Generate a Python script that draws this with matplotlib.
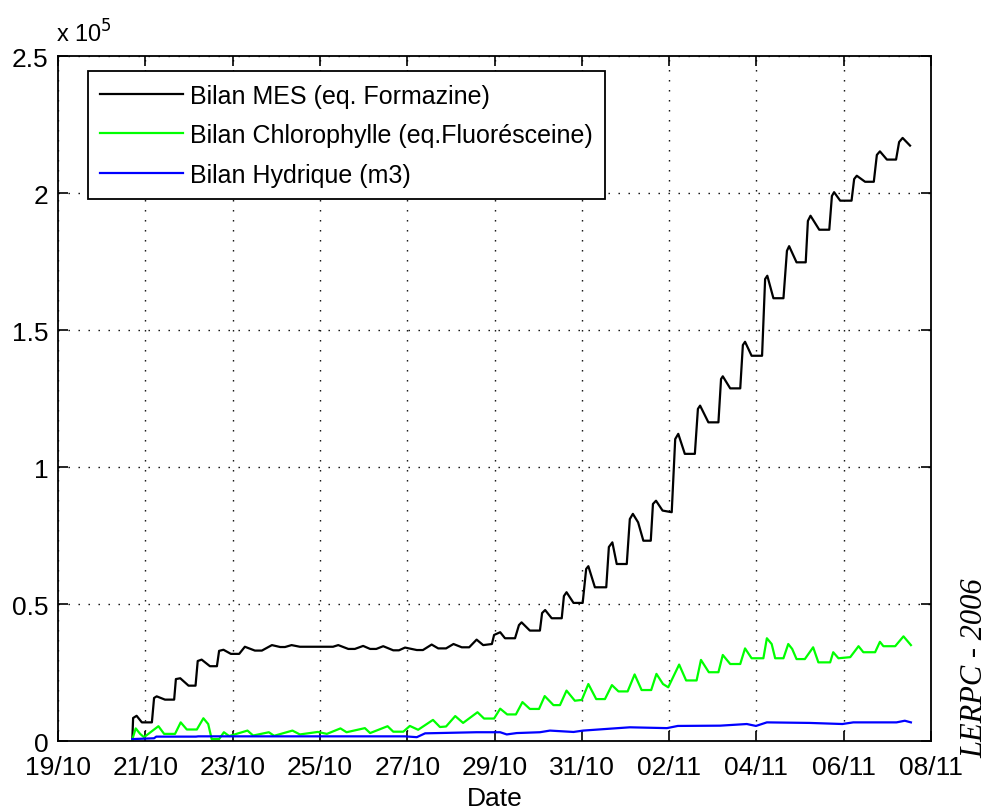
import numpy as np
import matplotlib
matplotlib.use('Agg')
import matplotlib.pyplot as plt
import matplotlib.dates as mdates
from datetime import datetime

plt.rcParams['font.family'] = ['Liberation Sans', 'DejaVu Sans']

start = datetime(2006, 10, 19)

# time axis in days after 19/10/2006 00:00
mes_days = [1.70, 1.72, 1.80, 1.92, 2.15, 2.20, 2.26, 2.45, 2.66, 2.70, 2.80, 2.99, 3.15,
            3.20, 3.29, 3.48, 3.64, 3.69, 3.79, 3.96, 4.15, 4.28, 4.51, 4.67, 4.90, 5.09,
            5.20, 5.35, 5.54, 6.30, 6.42, 6.65, 6.80, 6.99, 7.15, 7.29, 7.45, 7.68, 7.81,
            7.95, 8.22, 8.36, 8.56, 8.71, 8.89, 9.06, 9.25, 9.42, 9.59, 9.74, 9.94, 9.99,
            10.13, 10.24, 10.47, 10.56, 10.62, 10.81, 11.04, 11.09, 11.16, 11.31, 11.54,
            11.59, 11.65, 11.81, 12.02, 12.10, 12.15, 12.30, 12.56, 12.62, 12.70, 12.80,
            13.03, 13.10, 13.17, 13.29, 13.41, 13.58, 13.63, 13.70, 13.85, 14.06, 14.14,
            14.21, 14.36, 14.59, 14.66, 14.71, 14.90, 15.13, 15.19, 15.23, 15.40, 15.63,
            15.69, 15.74, 15.89, 16.13, 16.20, 16.25, 16.39, 16.62, 16.70, 16.75, 16.92,
            17.13, 17.18, 17.24, 17.44, 17.67, 17.73, 17.78, 17.92, 18.18, 18.24, 18.30,
            18.49, 18.69, 18.76, 18.83, 18.99, 19.20, 19.27, 19.35, 19.52]
mes_vals = [0, 8400, 9200, 6800, 6800, 15700, 16300, 15100, 15100, 22600, 22900, 20200, 20200,
            29200, 29700, 27300, 27300, 32900, 33300, 31800, 31800, 34400, 33000, 33000, 35000,
            34300, 34300, 35000, 34400, 34400, 35000, 33600, 33600, 34700, 33600, 33600, 34600,
            33100, 33100, 34100, 33200, 33200, 35200, 33800, 33800, 35400, 34200, 34200, 37000,
            35000, 35400, 38700, 39700, 37500, 37500, 42300, 43300, 40300, 40300, 46700, 47800,
            44800, 44800, 52900, 54300, 50400, 50400, 62800, 63800, 56100, 56100, 70800, 72500,
            64600, 64600, 81000, 82900, 79800, 73100, 73100, 86500, 87700, 84100, 83500, 110200,
            112100, 104800, 104800, 121200, 122400, 116300, 116300, 132100, 133100, 128700,
            128700, 144500, 145700, 140600, 140600, 168600, 169800, 161600, 161600, 178900,
            180600, 174700, 174700, 189800, 191700, 186600, 186600, 198900, 200300, 197200,
            197200, 205100, 206300, 204100, 204100, 213900, 215200, 212200, 212200, 218600,
            220100, 217300]

chl_days = [1.69, 1.78, 1.88, 1.97, 2.30, 2.43, 2.68, 2.81, 2.95, 3.18, 3.33, 3.44, 3.52, 3.69,
            3.80, 3.92, 4.34, 4.47, 4.83, 4.95, 5.37, 5.54, 5.95, 6.16, 6.47, 6.61, 7.03, 7.15,
            7.55, 7.68, 7.91, 8.06, 8.25, 8.59, 8.75, 8.89, 9.10, 9.28, 9.61, 9.76, 9.99, 10.13,
            10.29, 10.49, 10.64, 10.81, 11.02, 11.15, 11.35, 11.50, 11.65, 11.84, 12.00, 12.15,
            12.33, 12.53, 12.69, 12.84, 13.05, 13.21, 13.37, 13.59, 13.71, 13.86, 13.98, 14.23,
            14.39, 14.63, 14.73, 14.91, 15.13, 15.23, 15.40, 15.63, 15.74, 15.89, 16.16, 16.24,
            16.35, 16.43, 16.62, 16.73, 16.82, 16.92, 17.11, 17.30, 17.42, 17.69, 17.76, 17.88,
            18.15, 18.34, 18.45, 18.72, 18.83, 18.91, 19.18, 19.37, 19.54]
chl_vals = [0, 4600, 2600, 1400, 5400, 2600, 2600, 6800, 4200, 4200, 8300, 6200, 700, 700,
            3200, 1800, 3800, 2000, 3200, 1900, 3800, 2400, 3300, 2600, 4600, 3200, 4700, 2900,
            5400, 3400, 3400, 5500, 4100, 7700, 5100, 5300, 9100, 6600, 10500, 8200, 8200, 11800,
            9700, 9700, 14200, 11700, 11700, 16400, 13100, 13100, 18400, 14700, 15000, 20800,
            15300, 15300, 20400, 18100, 18100, 24300, 18600, 18600, 24500, 20800, 19600, 27900,
            22100, 22100, 29600, 25100, 25100, 31400, 28100, 28100, 33800, 30200, 30200, 37500,
            35400, 30200, 30200, 35400, 33600, 29900, 29900, 34200, 28700, 28700, 32400, 30200,
            30600, 34600, 32400, 32400, 36200, 34600, 34600, 38200, 35000]

hyd_days = [1.70, 2.20, 2.25, 3.16, 3.21, 7.95, 8.22, 8.41, 9.59, 10.13, 10.28, 10.51, 11.04,
            11.27, 11.81, 12.03, 12.65, 13.10, 13.95, 14.20, 15.17, 15.78, 15.99, 16.24, 17.22,
            17.97, 18.22, 19.21, 19.40, 19.54]
hyd_vals = [700, 1000, 1600, 1600, 1700, 1700, 1400, 2800, 3200, 3200, 2400, 2900, 3200, 3800,
            3300, 3800, 4500, 5000, 4700, 5500, 5600, 6200, 5500, 6800, 6600, 6200, 6800, 6800,
            7400, 6800]

tick_days = list(range(0, 21, 2))
y_ticks = [0, 50000, 100000, 150000, 200000, 250000]
y_tick_labels = ['0', '0.5', '1', '1.5', '2', '2.5']

t0 = mdates.date2num(start)

fig = plt.figure(figsize=(9.94, 8.12), dpi=100)
ax = fig.add_axes([0.0584, 0.0862, 0.8782, 0.8436])

ax.plot(t0 + np.array(mes_days), mes_vals, color='k', lw=1.6, label='Bilan MES (eq. Formazine)')
ax.plot(t0 + np.array(chl_days), chl_vals, color='#00ff00', lw=1.6,
        label='Bilan Chlorophylle (eq.Fluorésceine)')
ax.plot(t0 + np.array(hyd_days), hyd_vals, color='#0000ff', lw=1.6, label='Bilan Hydrique (m3)')

ax.set_xlim(t0, t0 + 20)
ax.set_ylim(0, 250000)
ax.set_xticks(t0 + np.array(tick_days))
ax.xaxis.set_major_formatter(mdates.DateFormatter('%d/%m'))
ax.set_yticks(y_ticks)
ax.set_yticklabels(y_tick_labels)

ax.grid(True, color='k', linestyle=(0, (1, 6.2)), linewidth=1.0)
ax.tick_params(direction='in', length=7, width=1.2, top=True, right=True, labelsize=19)
ax.tick_params(axis='x', pad=10)
ax.tick_params(axis='y', pad=7)
for s in ax.spines.values():
    s.set_linewidth(1.3)

ax.set_xlabel('Date', fontsize=19, labelpad=5)

leg = ax.legend(loc='upper left', bbox_to_anchor=(0.034, 0.978), borderaxespad=0,
                fontsize=18, handlelength=3.3, handletextpad=0.3, borderpad=0.5,
                labelspacing=0.62, fancybox=False, framealpha=1)
leg.get_frame().set_edgecolor('k')
leg.get_frame().set_linewidth(1.3)

fig.text(0.056, 0.947, 'x 10$^5$', fontsize=17, ha='left', va='baseline')
fig.text(0.981, 0.066, 'LERPC - 2006', rotation=90, fontsize=22, style='italic',
         family='Liberation Serif', ha='center', va='bottom')

fig.savefig('out.png', dpi=100)
